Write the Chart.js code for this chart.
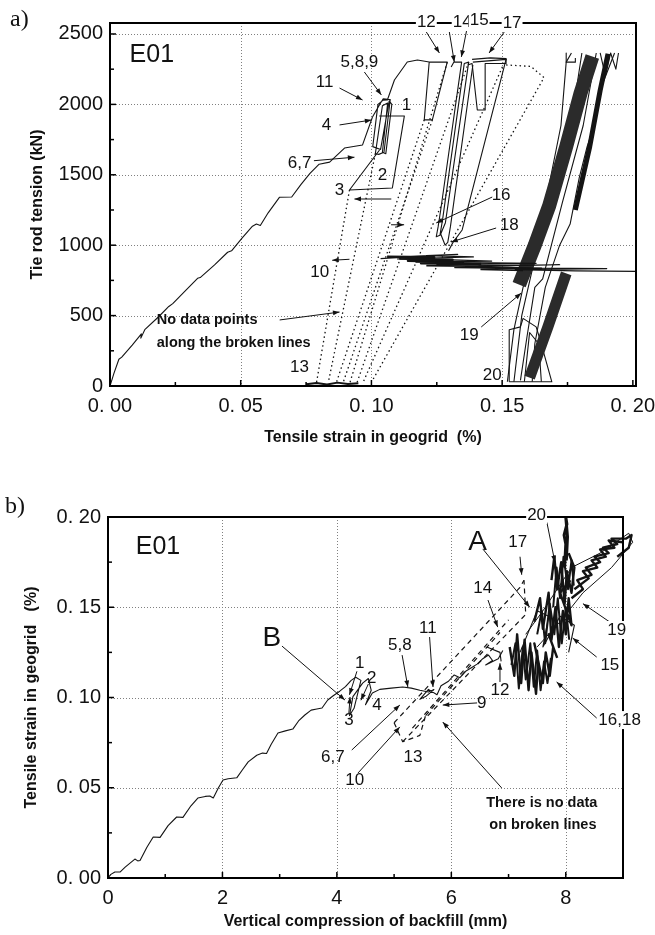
<!DOCTYPE html>
<html>
<head>
<meta charset="utf-8">
<script src="https://cdn.jsdelivr.net/npm/chart.js@4.4.1/dist/chart.umd.min.js"></script>
<style>
  html, body { margin: 0; padding: 0; background: #fff; width: 655px; height: 935px; overflow: hidden; }
  canvas { position: absolute; left: 0; }
</style>
</head>
<body>
<canvas id="chartA" width="655" height="460" style="top:0"></canvas>
<canvas id="chartB" width="655" height="475" style="top:460px"></canvas>
<script>
/* ---- (a) tie rod tension (kN) vs tensile strain in geogrid (%) ---- */
const xTicksA = [0, 0.05, 0.10, 0.15, 0.20];
const xMinorA = [0.025, 0.075, 0.125, 0.175];
const yTicksA = [0, 500, 1000, 1500, 2000, 2500];
const yMinorA = [250, 750, 1250, 1750, 2250];

// main loading curve
const loadA = [[0,0],[0.0015,90],[0.0034,190],[0.0045,205],[0.0085,290],[0.012,370],[0.0118,340],[0.0133,400],
  [0.0185,490],[0.0225,565],[0.024,585],[0.0285,670],[0.0335,765],[0.0345,770],[0.040,860],[0.045,950],[0.0465,960],
  [0.0505,1050],[0.0545,1135],[0.056,1150],[0.0575,1140],[0.0605,1230],[0.0648,1340],[0.0695,1342],[0.073,1430],
  [0.0765,1510],[0.080,1575],[0.084,1590],[0.0897,1690],[0.0966,1712],[0.1004,1910]];
// cycles 1-11 then up to 12
const cycA1 = [[0.1004,1910],[0.1035,2010],[0.1045,2040],[0.1072,2035],[0.1048,1660],[0.1028,1645],[0.1015,1650],
  [0.1042,1990],[0.1062,2010],[0.1042,1660],[0.1055,1650],[0.1078,2000],[0.1068,2025],[0.1035,1680],[0.1005,1700],
  [0.1025,2000],[0.1045,2030],[0.1061,2031],[0.1088,2173],[0.1137,2301],[0.1176,2315],[0.1221,2301],
  [0.129,2300],[0.1233,1890],[0.1202,1890],[0.1221,2301]];
// cycles 2, 3
const cycA23 = [[0.1031,1676],[0.0916,1392],[0.108,1406],[0.1126,1918],[0.103,1918]];
// cycles 14-16
const cycA14 = [[0.1305,2265],[0.1315,2300],[0.1345,2300],[0.1265,1250],[0.1255,1130],[0.1248,1060],[0.1262,1070],
  [0.1272,1180],[0.1355,2290],[0.1372,2300],[0.1283,1160],[0.1265,1080],[0.1282,1000],[0.1292,1020],[0.1302,1130],
  [0.1388,2280]];
const cycA15 = [[0.1388,2300],[0.1515,2320],[0.1347,1108],[0.1312,1020],[0.1295,960]];
const cycA17 = [[0.1385,2320],[0.1455,2330],[0.1515,2325],[0.1515,2290],[0.1435,2290],[0.1435,1960],[0.1405,1960],
  [0.1385,2290],[0.1368,2280]];
// horizontal scribbles (cycle 18)
const hA1 = [[0.1035,905],[0.118,922],[0.133,935],[0.121,926],[0.139,917],[0.110,902],[0.128,897],[0.146,887],
  [0.117,880],[0.137,876],[0.163,871],[0.125,863],[0.152,857],[0.172,861],[0.141,850],[0.161,838],[0.19,834],
  [0.155,826],[0.178,818],[0.2012,814]];
const hA2 = [[0.106,918],[0.124,914],[0.111,906],[0.131,897],[0.114,889],[0.135,881],[0.119,872],[0.142,866]];
const hA3 = [[0.121,855],[0.145,850],[0.132,842],[0.165,835],[0.142,828],[0.158,822]];
// dense band (cycles 19, 20)
const bandA1 = [[0.1565,720],[0.1625,1000],[0.168,1280],[0.1745,1700],[0.180,2080],[0.1845,2340]];
const bandA2 = [[0.1605,60],[0.1675,420],[0.1745,800]];
const bandA3 = [[0.178,1250],[0.1835,1700],[0.1875,2100],[0.1905,2360]];
const thinA1 = [[0.152,30],[0.1545,400],[0.158,700],[0.1655,1200],[0.1725,1850],[0.1745,2300],[0.1765,2365]];
const thinA2 = [[0.1545,30],[0.1575,500],[0.1612,800],[0.169,1400],[0.1775,2000],[0.1805,2365]];
const thinA3 = [[0.157,40],[0.1595,350],[0.1625,700],[0.1655,760],[0.173,1300],[0.181,1850],[0.186,2365]];
const thinA4 = [[0.1615,30],[0.1625,300],[0.1665,700],[0.172,1000],[0.176,1150],[0.1795,1480],[0.1825,1700],
  [0.1855,1870],[0.1885,2150],[0.193,2365]];
const thinA5 = [[0.1527,30],[0.1527,400],[0.157,420],[0.158,480],[0.163,420],[0.1645,330],[0.169,30],[0.1527,30]];
const thinA6 = [[0.1745,2365],[0.1745,2300],[0.178,2300],[0.178,2330]];
const thinA7 = [[0.1585,30],[0.1605,380],[0.164,300],[0.165,30]];
const thinA8 = [[0.1875,2365],[0.1895,2200],[0.1915,2365],[0.1935,2250],[0.1945,2365]];
const floorA = [[0.075,12],[0.079,22],[0.083,10],[0.087,24],[0.091,14],[0.095,20]];
// broken (no data) lines
const brokenA = [
  [[0.0916,1392],[0.079,25]],
  [[0.1015,1650],[0.0835,25]],
  [[0.1202,1890],[0.0866,25]],
  [[0.1233,1890],[0.0892,25]],
  [[0.129,2300],[0.0918,25]],
  [[0.1372,2300],[0.0945,25]],
  [[0.1515,2325],[0.0968,25]],
  [[0.1515,2280],[0.161,2270],[0.166,2190],[0.1004,40]]
];

/* ---- (b) tensile strain in geogrid (%) vs vertical compression of backfill (mm) ---- */
const xTicksB = [0, 2, 4, 6, 8];
const xMinorB = [1, 3, 5, 7];
const yTicksB = [0, 0.05, 0.10, 0.15, 0.20];
const yMinorB = [0.025, 0.075, 0.125, 0.175];

const loadB = [[0,0],[0.05,0.002],[0.12,0.0033],[0.21,0.0033],[0.3,0.006],[0.47,0.0105],[0.52,0.0095],[0.56,0.0097],
  [0.68,0.017],[0.79,0.0227],[0.91,0.0225],[1.05,0.029],[1.2,0.0338],[1.31,0.0336],[1.45,0.040],[1.57,0.0443],
  [1.7,0.0452],[1.78,0.0454],[1.84,0.0443],[1.93,0.050],[2.01,0.0543],[2.1,0.055],[2.25,0.0555],[2.35,0.060],
  [2.45,0.0643],[2.6,0.068],[2.7,0.0692],[2.77,0.069],[2.85,0.074],[2.97,0.0803],[3.1,0.0815],[3.23,0.0825],
  [3.33,0.087],[3.44,0.0903],[3.55,0.093],[3.65,0.0936],[3.74,0.0942],[3.84,0.0986],[3.93,0.1008],[4.05,0.1035],
  [4.15,0.106],[4.25,0.1095],[4.33,0.1112],[4.42,0.1095],[4.3,0.094],[4.22,0.09],[4.28,0.1005],[4.45,0.108],
  [4.55,0.1105],[4.6,0.104],[4.5,0.096],[4.62,0.1025],[4.75,0.1045],[4.95,0.1052],[5.15,0.1058],[5.3,0.1052],
  [5.45,0.104],[5.6,0.103],[5.7,0.1045]];
const cycB = [[5.7,0.1045],[5.55,0.1005],[5.45,0.099],[5.6,0.1045],[5.75,0.1015],[5.82,0.1065],[5.95,0.109],
  [6.05,0.1125],[6.15,0.111],[6.25,0.1145],[6.35,0.1165],[6.45,0.1185],[6.55,0.1215],[6.65,0.1235],[6.72,0.1205],
  [6.6,0.118],[6.82,0.1215],[6.9,0.126]];
const cycB12 = [[6.62,0.128],[6.85,0.125],[6.87,0.12]];
const brokenB = [
  [[5.0,0.086],[7.2,0.161],[7.27,0.165]],
  [[5.15,0.0755],[7.3,0.146],[7.27,0.165]],
  [[5.32,0.083],[7.0,0.143]],
  [[5.55,0.09],[6.85,0.136]],
  [[5.0,0.086],[5.15,0.0755],[5.45,0.079],[5.55,0.09]]
];
const clusterB1 = [[7.02,0.128],[7.1,0.112],[7.15,0.135],[7.22,0.108],[7.28,0.132],[7.35,0.104],[7.4,0.125],
  [7.48,0.102],[7.52,0.12],[7.45,0.13],[7.6,0.108],[7.65,0.125],[7.72,0.112],[7.78,0.128],[7.7,0.135],[7.85,0.122]];
const clusterB2 = [[7.45,0.142],[7.55,0.155],[7.6,0.138],[7.7,0.158],[7.75,0.132],[7.82,0.15],[7.88,0.128],
  [7.95,0.148],[8.0,0.135],[8.05,0.155],[8.1,0.14],[7.9,0.158],[8.08,0.165]];
const clusterB3 = [[7.75,0.165],[7.8,0.178],[7.85,0.16],[7.92,0.175],[7.98,0.152],[8.02,0.17],[8.1,0.158],
  [8.15,0.172],[8.05,0.18]];
const clusterB4 = [[7.98,0.172],[8.0,0.185],[7.97,0.19],[8.02,0.196],[8.0,0.2],[8.03,0.189],[8.01,0.176]];
const clusterB5 = [[8.1,0.155],[8.3,0.16],[8.2,0.165],[8.45,0.168],[8.35,0.172],[8.6,0.175],[8.5,0.178],
  [8.75,0.18],[8.65,0.183],[8.9,0.185],[8.8,0.188],[9.05,0.188],[9.15,0.19],[9.1,0.183],[8.9,0.178]];
const clusterB6 = [[7.05,0.118],[7.12,0.13],[7.18,0.105],[7.25,0.128],[7.3,0.11],[7.38,0.13],[7.44,0.106],
  [7.5,0.126],[7.56,0.104],[7.62,0.12],[7.68,0.108],[7.74,0.122]];
const clusterB7 = [[7.5,0.135],[7.58,0.148],[7.64,0.13],[7.72,0.152],[7.8,0.135],[7.86,0.155],[7.93,0.13],
  [8.0,0.15],[8.06,0.132]];
const clusterB8 = [[7.78,0.15],[7.84,0.172],[7.9,0.155],[7.96,0.178],[8.04,0.16],[8.1,0.176],[8.14,0.162]];
const clusterB9 = [[8.15,0.16],[8.4,0.166],[8.3,0.17],[8.55,0.172],[8.45,0.176],[8.7,0.178],[8.6,0.182],
  [8.85,0.183],[8.75,0.187],[9.0,0.186]];
const thinB1 = [[7.3,0.135],[7.6,0.148],[8.1,0.172],[8.6,0.18],[9.1,0.191],[9.17,0.186],[8.8,0.172],[8.3,0.158],
  [7.9,0.142],[7.5,0.128]];
const thinB2 = [[7.2,0.125],[7.5,0.148],[7.7,0.145],[7.6,0.128],[7.9,0.145],[8.15,0.14],[8.05,0.125]];

/* ---- annotations ---- */
const notesA = [
  ['E01', 0.016, 2351, 'big'], ['5,8,9', 0.0954, 2301], ['11', 0.0821, 2159], ['1', 0.1134, 1996],
  ['4', 0.0828, 1854], ['6,7', 0.0725, 1584], ['2', 0.1042, 1499], ['3', 0.0878, 1392],
  ['12', 0.121, 2585, 'bg'], ['14', 0.1347, 2585, 'bg'], ['15', 0.1412, 2600, 'bg'], ['17', 0.1538, 2578, 'bg'],
  ['16', 0.1496, 1357], ['18', 0.1527, 1143], ['10', 0.0802, 810], ['13', 0.0725, 135],
  ['19', 0.1374, 362], ['20', 0.1462, 78],
  ['No data points', 0.0179, 469, 'boldL'], ['along the broken lines', 0.0179, 305, 'boldL']
];
const arrowsA = [
  [0.0878,2116,0.0966,2031], [0.0973,2230,0.1038,2067], [0.0878,1854,0.1,1889], [0.078,1600,0.0935,1625],
  [0.1076,1328,0.0935,1328], [0.0916,900,0.085,893], [0.1075,1145,0.1125,1145], [0.0649,469,0.0878,525],
  [0.121,2514,0.126,2365], [0.1298,2514,0.1317,2301], [0.1366,2543,0.1344,2337], [0.1508,2514,0.145,2365],
  [0.1462,1342,0.1248,1158], [0.1477,1122,0.1305,1023], [0.142,419,0.1573,660]
];
const notesB = [
  ['E01', 0.873, 0.1834, 'big'], ['B', 2.865, 0.133, 'huge'], ['A', 6.46, 0.1861, 'huge'],
  ['1', 4.40, 0.119], ['2', 4.61, 0.1108], ['5,8', 5.1, 0.129], ['11', 5.59, 0.1385], ['14', 6.55, 0.1607],
  ['17', 7.16, 0.1861], ['20', 7.49, 0.2011, 'bg'], ['19', 8.89, 0.1374, 'bg'], ['15', 8.77, 0.118],
  ['12', 6.85, 0.1042], ['3', 4.21, 0.0875], ['4', 4.70, 0.0958], ['9', 6.53, 0.097], ['6,7', 3.93, 0.067],
  ['10', 4.31, 0.0543], ['13', 5.33, 0.067], ['16,18', 8.94, 0.0875, 'bg'],
  ['There is no data', 7.58, 0.0416, 'bold'], ['on broken lines', 7.6, 0.0294, 'bold']
];
const arrowsB = [
  [3.04,0.1285,4.14,0.0986], [6.55,0.1823,7.37,0.150], [7.2,0.178,7.23,0.168], [6.64,0.154,6.81,0.139],
  [5.62,0.1335,5.68,0.1058], [5.14,0.1235,5.24,0.1058], [6.85,0.1086,6.85,0.119], [7.67,0.197,7.81,0.175],
  [8.77,0.1418,8.3,0.152], [8.54,0.1224,8.12,0.133], [8.54,0.0886,7.84,0.1086], [4.21,0.0914,4.23,0.1003],
  [6.45,0.097,5.85,0.0958], [4.26,0.0709,5.1,0.0958], [4.37,0.0582,5.1,0.0837], [6.88,0.0499,5.85,0.0864],
  [4.35,0.1145,4.22,0.1015], [4.55,0.1075,4.42,0.0985]
];

const FONT = '"Liberation Sans", Arial, sans-serif';
Chart.defaults.font.family = FONT;

function pts(arr) { return arr.map(([x, y]) => ({ x, y })); }
function line(arr, width = 1.1, dash = [], clip = undefined, color = '#141414') {
  const ds = { data: pts(arr), showLine: true, pointRadius: 0, borderColor: color, backgroundColor: color,
    borderWidth: width, borderDash: dash, tension: 0, borderJoinStyle: 'round' };
  if (clip !== undefined) ds.clip = clip;
  return ds;
}

function arrow(ctx, x1, y1, x2, y2) {
  const ang = Math.atan2(y2 - y1, x2 - x1), h = 7;
  ctx.beginPath(); ctx.moveTo(x1, y1); ctx.lineTo(x2, y2); ctx.stroke();
  ctx.beginPath();
  ctx.moveTo(x2, y2);
  ctx.lineTo(x2 - h * Math.cos(ang - 0.35), y2 - h * Math.sin(ang - 0.35));
  ctx.lineTo(x2 - h * Math.cos(ang + 0.35), y2 - h * Math.sin(ang + 0.35));
  ctx.closePath(); ctx.fill();
}

function decoPlugin(cfg) {
  return {
    id: 'deco',
    beforeDatasetsDraw(chart) {
      const { ctx, chartArea: a, scales: { x, y } } = chart;
      ctx.save();
      ctx.strokeStyle = '#808080'; ctx.lineWidth = 1; ctx.setLineDash([1, 2]);
      cfg.xTicks.slice(1).forEach(v => {
        const p = Math.round(x.getPixelForValue(v)) + 0.5;
        if (p >= a.right - 3) return;
        ctx.beginPath(); ctx.moveTo(p, a.top); ctx.lineTo(p, a.bottom); ctx.stroke();
      });
      cfg.yTicks.slice(1).forEach(v => {
        const p = Math.round(y.getPixelForValue(v)) + 0.5;
        if (p <= a.top + 3) return;
        ctx.beginPath(); ctx.moveTo(a.left, p); ctx.lineTo(a.right, p); ctx.stroke();
      });
      ctx.restore();
    },
    afterDatasetsDraw(chart) {
      const { ctx, chartArea: a, scales: { x, y } } = chart;
      ctx.save();
      // frame
      ctx.strokeStyle = '#000'; ctx.lineWidth = 2; ctx.setLineDash([]);
      ctx.strokeRect(a.left, a.top, a.right - a.left, a.bottom - a.top);
      // inward ticks
      ctx.lineWidth = 1.5;
      const tick = (vals, len) => {
        vals.forEach(v => { const p = x.getPixelForValue(v); ctx.beginPath(); ctx.moveTo(p, a.bottom); ctx.lineTo(p, a.bottom - len); ctx.stroke(); });
      };
      const tickY = (vals, len) => {
        vals.forEach(v => { const p = y.getPixelForValue(v); ctx.beginPath(); ctx.moveTo(a.left, p); ctx.lineTo(a.left + len, p); ctx.stroke(); });
      };
      tick(cfg.xTicks, 6); tick(cfg.xMinor, 4); tickY(cfg.yTicks, 6); tickY(cfg.yMinor, 4);
      // arrows
      ctx.lineWidth = 1; ctx.strokeStyle = '#111'; ctx.fillStyle = '#111';
      cfg.arrows.forEach(([x1, y1, x2, y2]) => arrow(ctx, x.getPixelForValue(x1), y.getPixelForValue(y1), x.getPixelForValue(x2), y.getPixelForValue(y2)));
      // notes
      ctx.textBaseline = 'middle';
      cfg.notes.forEach(([t, xv, yv, kind]) => {
        const px = x.getPixelForValue(xv), py = y.getPixelForValue(yv);
        let font = '17px ' + FONT;
        if (kind === 'big') font = '25px ' + FONT;
        if (kind === 'huge') font = '28px ' + FONT;
        if (kind === 'bold' || kind === 'boldL') font = 'bold 14.5px ' + FONT;
        ctx.font = font;
        ctx.textAlign = kind === 'boldL' ? 'left' : 'center';
        if (kind === 'bg') {
          const w = ctx.measureText(t).width;
          ctx.fillStyle = '#fff'; ctx.fillRect(px - w / 2 - 1, py - 9, w + 2, 18);
        }
        ctx.fillStyle = '#111';
        ctx.fillText(t, px, py);
      });
      // axis titles
      ctx.font = 'bold 16px ' + FONT; ctx.textAlign = 'center';
      ctx.fillText(cfg.xTitle, (a.left + a.right) / 2, a.bottom + cfg.xTitleOff);
      ctx.save();
      ctx.translate(cfg.yTitleX, (a.top + a.bottom) / 2); ctx.rotate(-Math.PI / 2);
      ctx.fillText(cfg.yTitle, 0, 0);
      ctx.restore();
      // panel letter
      ctx.font = '24px "Liberation Serif", "Times New Roman", serif'; ctx.textAlign = 'left';
      ctx.fillText(cfg.panel, cfg.panelX, cfg.panelY);
      ctx.restore();
    }
  };
}

function axes(xMin, xMax, yMin, yMax, xTicks, yTicks, fmtX, fmtY, yWidth, xHeight) {
  const tickFont = { size: 20, family: FONT };
  return {
    x: { type: 'linear', min: xMin, max: xMax,
      afterBuildTicks: s => { s.ticks = xTicks.map(v => ({ value: v })); },
      afterFit: s => { s.height = xHeight; s.paddingLeft = 0; s.paddingRight = 0; },
      grid: { display: false, drawTicks: false }, border: { display: false },
      ticks: { autoSkip: false, maxRotation: 0, padding: 8, color: '#111', font: tickFont, callback: fmtX } },
    y: { type: 'linear', min: yMin, max: yMax,
      afterBuildTicks: s => { s.ticks = yTicks.map(v => ({ value: v })); },
      afterFit: s => { s.width = yWidth; s.paddingTop = 0; s.paddingBottom = 0; },
      grid: { display: false, drawTicks: false }, border: { display: false },
      ticks: { autoSkip: false, padding: 7, color: '#111', font: tickFont, callback: fmtY } }
  };
}

const baseOpts = { responsive: false, animation: false, devicePixelRatio: 1,
  plugins: { legend: { display: false }, tooltip: { enabled: false } } };

const fmt2 = v => Number(v).toFixed(2).replace('.', '. ');

new Chart(document.getElementById('chartA'), {
  type: 'scatter',
  data: { datasets: [
    ...brokenA.map(b => line(b, 1.3, [1.5, 3])),
    line(loadA), line(cycA1), line(cycA23), line(cycA14), line(cycA15), line(cycA17),
    line(hA1, 1.2), line(hA2, 2.6), line(hA3, 1.8),
    line(bandA1, 14, [], undefined, '#2b2b2b'), line(bandA2, 11, [], undefined, '#2b2b2b'), line(bandA3, 5),
    line(thinA1), line(thinA2), line(thinA3), line(thinA4), line(thinA5), line(thinA6), line(thinA7), line(thinA8),
    line(floorA, 2)
  ] },
  options: { ...baseOpts,
    layout: { padding: { top: 23, right: 19, left: 0, bottom: 0 } },
    scales: axes(0, 0.2012, 0, 2578, xTicksA, yTicksA, v => fmt2(v), v => v, 110, 74) },
  plugins: [decoPlugin({ xTicks: xTicksA, xMinor: xMinorA, yTicks: yTicksA, yMinor: yMinorA,
    notes: notesA, arrows: arrowsA, xTitle: 'Tensile strain in geogrid  (%)', xTitleOff: 52,
    yTitle: 'Tie rod tension (kN)', yTitleX: 38, panel: 'a)', panelX: 10, panelY: 20 })]
});

new Chart(document.getElementById('chartB'), {
  type: 'scatter',
  data: { datasets: [
    ...brokenB.map(b => line(b, 1.2, [5, 4])),
    line(loadB), line(cycB), line(cycB12),
    line(clusterB1, 2.4), line(clusterB2, 2.4), line(clusterB3, 2.4), line(clusterB4, 3), line(clusterB5, 2.4, [], 12),
    line(clusterB6, 2), line(clusterB7, 2), line(clusterB8, 2), line(clusterB9, 2.4, [], 12),
    line(thinB1, 1, [], 12), line(thinB2)
  ] },
  options: { ...baseOpts,
    layout: { padding: { top: 57, right: 32, left: 0, bottom: 0 } },
    scales: axes(0, 9, 0, 0.20, xTicksB, yTicksB, v => v, v => fmt2(v), 108, 57) },
  plugins: [decoPlugin({ xTicks: xTicksB, xMinor: xMinorB, yTicks: yTicksB, yMinor: yMinorB,
    notes: notesB, arrows: arrowsB, xTitle: 'Vertical compression of backfill (mm)', xTitleOff: 44,
    yTitle: 'Tensile strain in geogrid   (%)', yTitleX: 32, panel: 'b)', panelX: 5, panelY: 47 })]
});
</script>
</body>
</html>
